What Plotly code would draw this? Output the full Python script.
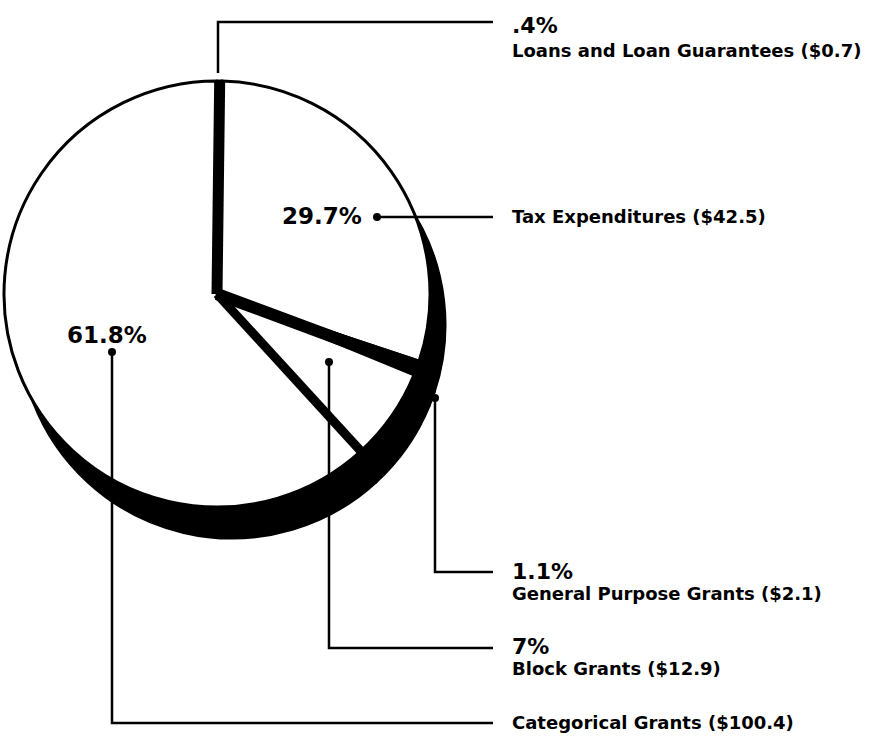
import math
import plotly.graph_objects as go

# ---------------- data ----------------
names = ["Loans and Loan Guarantees", "Tax Expenditures", "General Purpose Grants",
         "Block Grants", "Categorical Grants"]
pct = [0.4, 29.7, 1.1, 7.0, 61.8]
pct_text = [".4%", "29.7%", "1.1%", "7%", "61.8%"]
dollars = ["$0.7", "$42.5", "$2.1", "$12.9", "$100.4"]
slice_colors = ["black", "white", "black", "white", "white"]

W, H = 879, 738
CX, CY, R = 217, 294, 213          # pie centre / radius (px)
SDX, SDY = 15, 31                   # shadow offset (px)


def px(x):
    return x / W


def py(y):
    return 1 - y / H


def dom(cx, cy, r):
    return dict(x=[px(cx - r), px(cx + r)], y=[py(cy + r), py(cy - r)])


fig = go.Figure()
# shadow / extrusion
fig.add_trace(go.Pie(values=pct, labels=names, sort=False, direction="clockwise",
                     rotation=0, textinfo="none", hoverinfo="skip", showlegend=False,
                     marker=dict(colors=["black"] * len(pct), line=dict(color="black", width=3)),
                     domain=dom(CX + SDX, CY + SDY, R)))
# main pie
fig.add_trace(go.Pie(values=pct, labels=names, sort=False, direction="clockwise",
                     rotation=0, textinfo="none", hoverinfo="label+value", showlegend=False,
                     marker=dict(colors=slice_colors, line=dict(color="black", width=3)),
                     domain=dom(CX, CY, R)))

shapes = []
total = sum(pct)
cum = [0]
for v in pct:
    cum.append(cum[-1] + v)


def radial(frac, width):
    a = 2 * math.pi * frac
    x1 = CX + R * math.sin(a)
    y1 = CY - R * math.cos(a)
    shapes.append(dict(type="line", xref="paper", yref="paper",
                       x0=px(CX), y0=py(CY), x1=px(x1), y1=py(y1),
                       line=dict(color="black", width=width)))


# thick black edges (black slices and block/categorical border)
radial((cum[0] + cum[1]) / 2 / total, 11)
radial((cum[2] + cum[3]) / 2 / total, 12)
radial(cum[4] / total, 9)

# leader lines (px paths)
LX = 493
leaders = [
    [(218, 73), (218, 22), (LX, 22)],
    [(377, 217), (LX, 217)],
    [(435, 398), (435, 572), (LX, 572)],
    [(329, 362), (329, 648), (LX, 648)],
    [(112, 352), (112, 723), (LX, 723)],
]
dots = [None, (377, 217), (435, 398), (329, 362), (112, 352)]
for pts, d in zip(leaders, dots):
    path = "M " + " L ".join(f"{px(x):.5f},{py(y):.5f}" for x, y in pts)
    shapes.append(dict(type="path", xref="paper", yref="paper", path=path,
                       line=dict(color="black", width=2.5)))
    if d:
        r = 4
        shapes.append(dict(type="circle", xref="paper", yref="paper",
                           x0=px(d[0] - r), x1=px(d[0] + r), y0=py(d[1] + r), y1=py(d[1] - r),
                           fillcolor="black", line=dict(color="black", width=0)))

FONT = "DejaVu Sans"
ann = []


def text(x, y, s, size, anchor="left"):
    ann.append(dict(x=px(x), y=py(y), xref="paper", yref="paper", text=s,
                    showarrow=False, xanchor=anchor, yanchor="middle",
                    font=dict(family=FONT, size=size, color="black"),
                    ))


TX = 510
DS = 18
# right-side labels
text(TX, 26, f"<b>{pct_text[0]}</b>", 22)
text(TX, 50, f"<b>{names[0]} ({dollars[0]})</b>", DS)
text(TX, 216, f"<b>{names[1]} ({dollars[1]})</b>", DS)
text(TX, 571, f"<b>{pct_text[2]}</b>", 22)
text(TX, 593, f"<b>{names[2]} ({dollars[2]})</b>", DS)
text(TX, 646, f"<b>{pct_text[3]}</b>", 22)
text(TX, 668, f"<b>{names[3]} ({dollars[3]})</b>", DS)
text(TX, 722, f"<b>{names[4]} ({dollars[4]})</b>", DS)
# in-pie labels
text(364, 216, f"<b>{pct_text[1]}</b>", 23, anchor="right")
text(107, 335, f"<b>{pct_text[4]}</b>", 23, anchor="center")

fig.update_layout(width=W, height=H, margin=dict(l=0, r=0, t=0, b=0),
                  paper_bgcolor="white", plot_bgcolor="white",
                  shapes=shapes, annotations=ann, showlegend=False)

fig.write_html("out.html", config={"displayModeBar": False},
               post_script="document.body.style.margin='0px';document.body.style.overflow='hidden';")
